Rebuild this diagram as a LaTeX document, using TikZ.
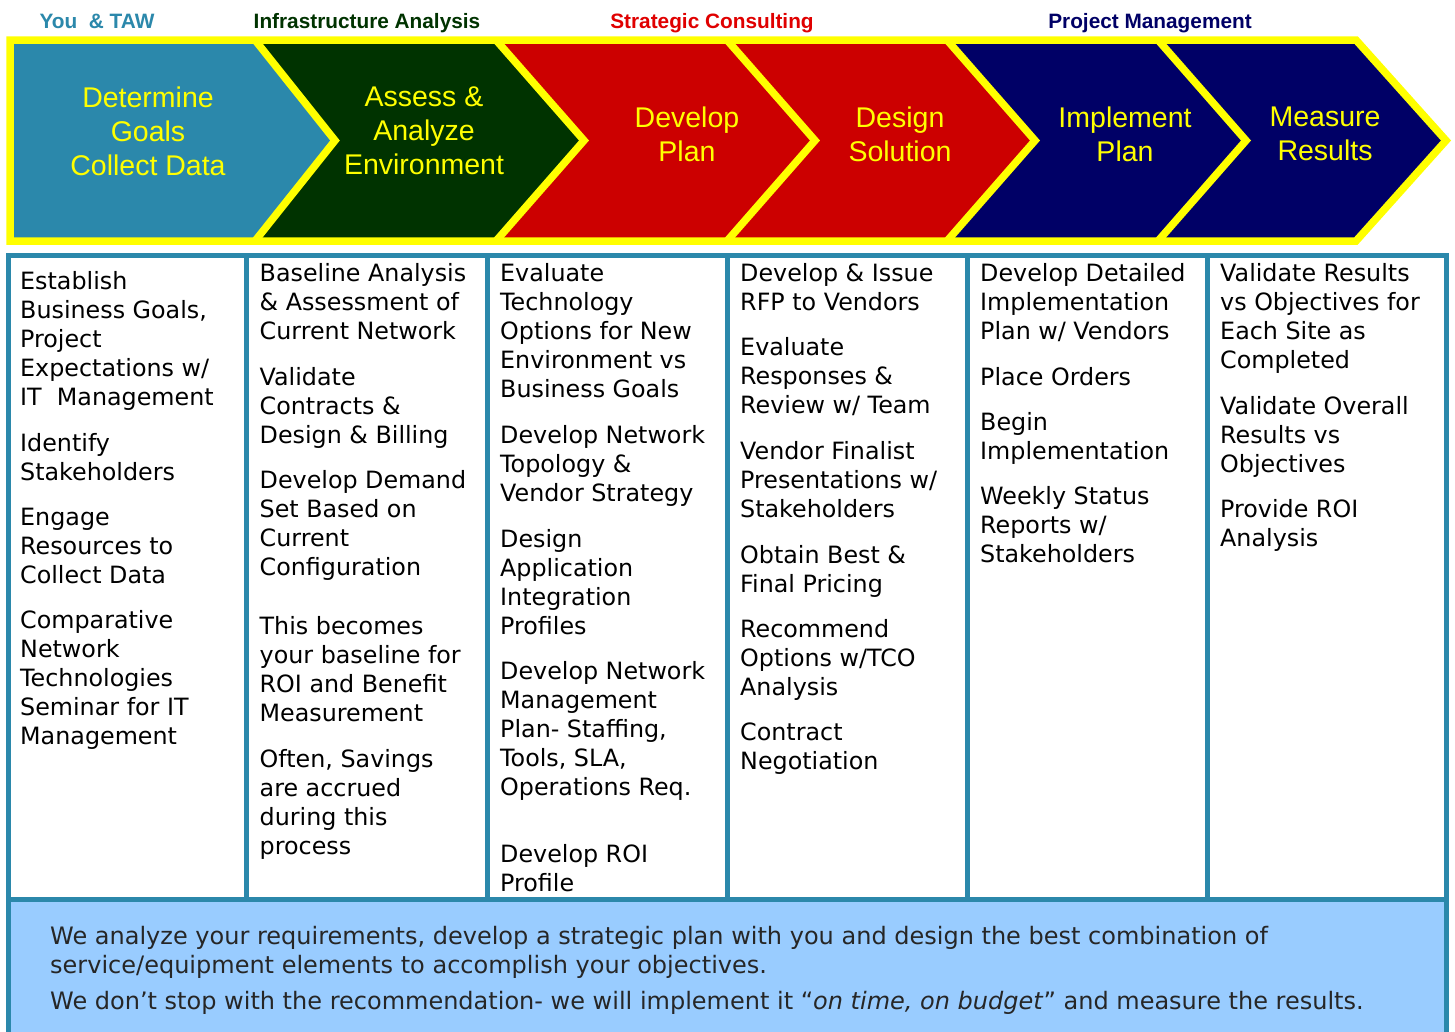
\documentclass[tikz,border=0pt]{standalone}
\usepackage{fontspec}
\setmainfont{DejaVu Sans}
\newfontfamily\arialf{Liberation Sans}
\definecolor{tealc}{HTML}{2B88AB}
\definecolor{dkgreen}{HTML}{003300}
\definecolor{redc}{HTML}{CC0000}
\definecolor{redt}{HTML}{E00000}
\definecolor{navyc}{HTML}{000066}
\definecolor{yel}{HTML}{FFFF00}
\definecolor{ltblue}{HTML}{99CCFF}
\definecolor{dgray}{HTML}{262626}
\tikzset{
  toplab/.style={anchor=base, inner sep=0, font=\arialf\bfseries\fontsize{20.8}{24}\selectfont},
  chevtext/.style={align=center, inner sep=0, text=yel, font=\arialf\fontsize{28.5}{34}\selectfont},
  cell/.style={anchor=base west, inner sep=0, font=\fontsize{23.8}{29.2}\selectfont},
  foot/.style={anchor=base west, inner sep=0, text=dgray, font=\fontsize{24}{28}\selectfont},
  seam/.style={draw=yel, line width=7.5pt, line join=miter},
  grid/.style={draw=tealc, line width=5pt}
}
\newcommand{\cellbox}[1]{\parbox[t]{232pt}{\raggedright #1}}
\begin{document}
\begin{tikzpicture}[x=1pt,y=-1pt]
\useasboundingbox (0,0) rectangle (1455,1031);
\fill[white] (0,0) rectangle (1455,1031);
% top labels
\node[toplab, text=tealc] (l1) at (97,28.5) {You\ \ \& TAW};
\node[toplab, text=dkgreen] (l2) at (367,28.5) {Infrastructure Analysis};
\node[toplab, text=redt] (l3) at (712,28.5) {Strategic Consulting};
\node[toplab, text=navyc] (l4) at (1150,28.5) {Project Management};
% chevron fills
\fill[tealc] (10,40) -- (255,40) -- (335,140.5) -- (255,241) -- (10,241) -- cycle;
\fill[dkgreen] (255,40) -- (496,40) -- (584,140.5) -- (496,241) -- (255,241) -- (335,140.5) -- cycle;
\fill[redc] (496,40) -- (727,40) -- (815,140.5) -- (727,241) -- (496,241) -- (584,140.5) -- cycle;
\fill[redc] (727,40) -- (947,40) -- (1035,140.5) -- (947,241) -- (727,241) -- (815,140.5) -- cycle;
\fill[navyc] (947,40) -- (1158,40) -- (1246,140.5) -- (1158,241) -- (947,241) -- (1035,140.5) -- cycle;
\fill[navyc] (1158,40) -- (1356,40) -- (1446,140.5) -- (1356,241) -- (1158,241) -- (1246,140.5) -- cycle;
% yellow outline and seams
\draw[seam] (10,40) -- (1356,40) -- (1446,140.5) -- (1356,241) -- (10,241) -- cycle;
\draw[seam] (255,40) -- (335,140.5) -- (255,241);
\draw[seam] (496,40) -- (584,140.5) -- (496,241);
\draw[seam] (727,40) -- (815,140.5) -- (727,241);
\draw[seam] (947,40) -- (1035,140.5) -- (947,241);
\draw[seam] (1158,40) -- (1246,140.5) -- (1158,241);
% chevron texts
\node[chevtext] (h1) at (148,131) {Determine\\Goals\\Collect Data};
\node[chevtext] (h2) at (424,131) {Assess \&\\Analyze\\Environment};
\node[chevtext] (h3) at (687,134) {Develop\\Plan};
\node[chevtext] (h4) at (900,134) {Design\\Solution};
\node[chevtext] (h5) at (1125,134) {Implement\\Plan};
\node[chevtext] (h6) at (1325,134) {Measure\\Results};
% table
\fill[ltblue] (8.5,899) rectangle (1446.5,1035);
\draw[grid] (8.5,255) rectangle (1446.5,1035);
\draw[grid] (8.5,899) -- (1446.5,899);
\foreach \xx in {246,487,727,967,1207} \draw[grid] (\xx,255) -- (\xx,899);
% column 1
\node[cell] (c1a) at (20,289) {\cellbox{Establish\\Business Goals,\\Project\\Expectations w/\\IT\ \ Management}};
\node[cell] (c1b) at (20,451) {\cellbox{Identify\\Stakeholders}};
\node[cell] (c1c) at (20,525) {\cellbox{Engage\\Resources to\\Collect Data}};
\node[cell] (c1d) at (20,628) {\cellbox{Comparative\\Network\\Technologies\\Seminar for IT\\Management}};
% column 2
\node[cell] (c2a) at (259.5,281) {\cellbox{Baseline Analysis\\\& Assessment of\\Current Network}};
\node[cell] (c2b) at (259.5,385) {\cellbox{Validate\\Contracts \&\\Design \& Billing}};
\node[cell] (c2c) at (259.5,488) {\cellbox{Develop Demand\\Set Based on\\Current\\Configuration}};
\node[cell] (c2d) at (259.5,634) {\cellbox{This becomes\\your baseline for\\ROI and Benefit\\Measurement}};
\node[cell] (c2e) at (259.5,767) {\cellbox{Often, Savings\\are accrued\\during this\\process}};
% column 3
\node[cell] (c3a) at (500,281) {\cellbox{Evaluate\\Technology\\Options for New\\Environment vs\\Business Goals}};
\node[cell] (c3b) at (500,443) {\cellbox{Develop Network\\Topology \&\\Vendor Strategy}};
\node[cell] (c3c) at (500,547) {\cellbox{Design\\Application\\Integration\\Profiles}};
\node[cell] (c3d) at (500,679) {\cellbox{Develop Network\\Management\\Plan- Staffing,\\Tools, SLA,\\Operations Req.}};
\node[cell] (c3e) at (500,862) {\cellbox{Develop ROI\\Profile}};
% column 4
\node[cell] (c4a) at (740,281) {\cellbox{Develop \& Issue\\RFP to Vendors}};
\node[cell] (c4b) at (740,355) {\cellbox{Evaluate\\Responses \&\\Review w/ Team}};
\node[cell] (c4c) at (740,459) {\cellbox{Vendor Finalist\\Presentations w/\\Stakeholders}};
\node[cell] (c4d) at (740,563) {\cellbox{Obtain Best \&\\Final Pricing}};
\node[cell] (c4e) at (740,637) {\cellbox{Recommend\\Options w/TCO\\Analysis}};
\node[cell] (c4f) at (740,740) {\cellbox{Contract\\Negotiation}};
% column 5
\node[cell] (c5a) at (980,281) {\cellbox{Develop Detailed\\Implementation\\Plan w/ Vendors}};
\node[cell] (c5b) at (980,385) {\cellbox{Place Orders}};
\node[cell] (c5c) at (980,430) {\cellbox{Begin\\Implementation}};
\node[cell] (c5d) at (980,504) {\cellbox{Weekly Status\\Reports w/\\Stakeholders}};
% column 6
\node[cell] (c6a) at (1220,281) {\cellbox{Validate Results\\vs Objectives for\\Each Site as\\Completed}};
\node[cell] (c6b) at (1220,414) {\cellbox{Validate Overall\\Results vs\\Objectives}};
\node[cell] (c6c) at (1220,517) {\cellbox{Provide ROI\\Analysis}};
% footer
\node[foot] (f1) at (50,944) {We analyze your requirements, develop a strategic plan with you and design the best combination of};
\node[foot] (f2) at (50,973) {service/equipment elements to accomplish your objectives.};
\node[foot] (f3) at (50,1009.5) {We don’t stop with the recommendation- we will implement it “\textit{on time, on budget}” and measure the results.};
\end{tikzpicture}
\end{document}
